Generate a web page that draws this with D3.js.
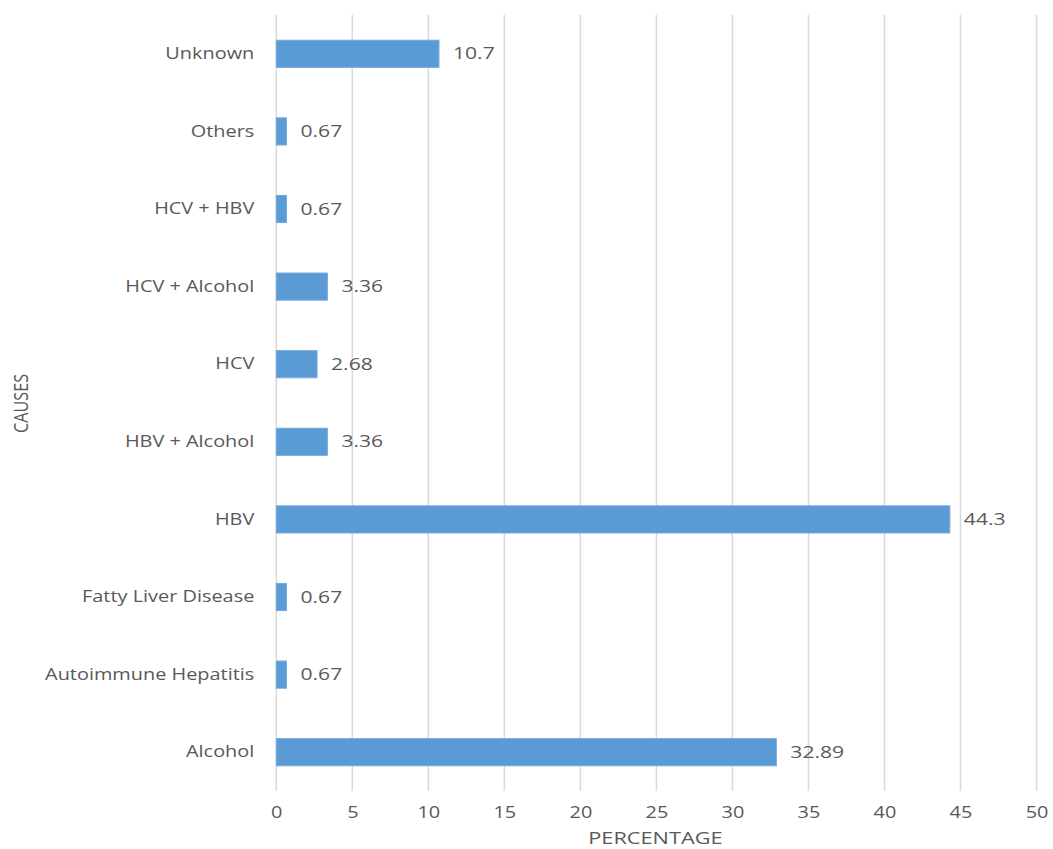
<!DOCTYPE html>
<html>
<head>
<meta charset="utf-8">
<script src="https://cdn.jsdelivr.net/npm/d3@7"></script>
<style>
  html, body { margin: 0; padding: 0; background: #fff; }
  svg { display: block; }
  text { font-family: "Open Sans", "Noto Sans", sans-serif; fill: #595959; }
</style>
</head>
<body>
<svg id="chart" width="1053" height="849"></svg>
<script>
const categories = ["Unknown", "Others", "HCV + HBV", "HCV + Alcohol", "HCV", "HBV + Alcohol", "HBV", "Fatty Liver Disease", "Autoimmune Hepatitis", "Alcohol"];
const values = [10.7, 0.67, 0.67, 3.36, 2.68, 3.36, 44.3, 0.67, 0.67, 32.89];
const valueLabels = ["10.7", "0.67", "0.67", "3.36", "2.68", "3.36", "44.3", "0.67", "0.67", "32.89"];
const xTicks = [0, 5, 10, 15, 20, 25, 30, 35, 40, 45, 50];
const xTitle = "PERCENTAGE";
const yTitle = "CAUSES";

const svg = d3.select("#chart");
const margin = { left: 276.3, right: 16.5, top: 15, bottom: 58 };
const W = 1053, H = 849;
const FS = 16;
const SX = 1.245;

const x = d3.scaleLinear().domain([0, 50]).range([margin.left, W - margin.right]);
const y = d3.scaleBand().domain(categories).range([margin.top, H - margin.bottom]).paddingInner(0.65).paddingOuter(0.325);

// gridlines
svg.append("g").selectAll("line").data(xTicks).join("line")
  .attr("x1", d => x(d)).attr("x2", d => x(d))
  .attr("y1", margin.top).attr("y2", H - margin.bottom)
  .attr("stroke", "#d9d9d9").attr("stroke-width", 1.5);

// bars
const data = categories.map((c, i) => ({ c, v: values[i], l: valueLabels[i] }));
svg.append("g").selectAll("rect").data(data).join("rect")
  .attr("x", x(0)).attr("y", d => y(d.c))
  .attr("width", d => x(d.v) - x(0)).attr("height", y.bandwidth())
  .attr("fill", "#5b9bd5").attr("stroke", "#74aade").attr("stroke-width", 1);

// value labels
svg.append("g").selectAll("text").data(data).join("text")
  .attr("transform", d => `translate(${x(d.v) + 14},${y(d.c) + y.bandwidth() / 2}) scale(1.32,1)`)
  .attr("dy", "0.35em").attr("font-size", FS).text(d => d.l);

// y axis category labels
const yAxis = d3.axisLeft(y).tickSize(0).tickPadding(0);
const gy = svg.append("g").attr("transform", `translate(${margin.left},0)`).call(yAxis);
gy.select(".domain").remove();
gy.selectAll("text").attr("font-size", FS).attr("fill", "#595959")
  .style("font-family", '"Open Sans", "Noto Sans", sans-serif')
  .attr("x", -22 / SX).attr("transform", `scale(${SX},1)`);

// x axis ticks
const xAxis = d3.axisBottom(x).tickValues(xTicks).tickSize(0).tickPadding(16).tickFormat(d3.format("d"));
const gx = svg.append("g").attr("transform", `translate(0,${H - margin.bottom})`).call(xAxis);
gx.select(".domain").remove();
gx.selectAll("text").attr("font-size", FS).attr("fill", "#595959")
  .style("font-family", '"Open Sans", "Noto Sans", sans-serif')
  .attr("transform", `scale(${SX},1)`);

// axis titles
svg.append("text").attr("transform", `translate(${(x(0) + x(50)) / 2 - 1},838) scale(1.36,1)`).attr("dy", "0.35em")
  .attr("text-anchor", "middle").attr("font-size", FS).text(xTitle);

svg.append("text").attr("transform", "translate(21,403.5) scale(1.3,1) rotate(-90)")
  .attr("dy", "0.35em").attr("text-anchor", "middle").attr("font-size", 16)
  .attr("textLength", 59).attr("lengthAdjust", "spacingAndGlyphs").text(yTitle);
</script>
</body>
</html>
